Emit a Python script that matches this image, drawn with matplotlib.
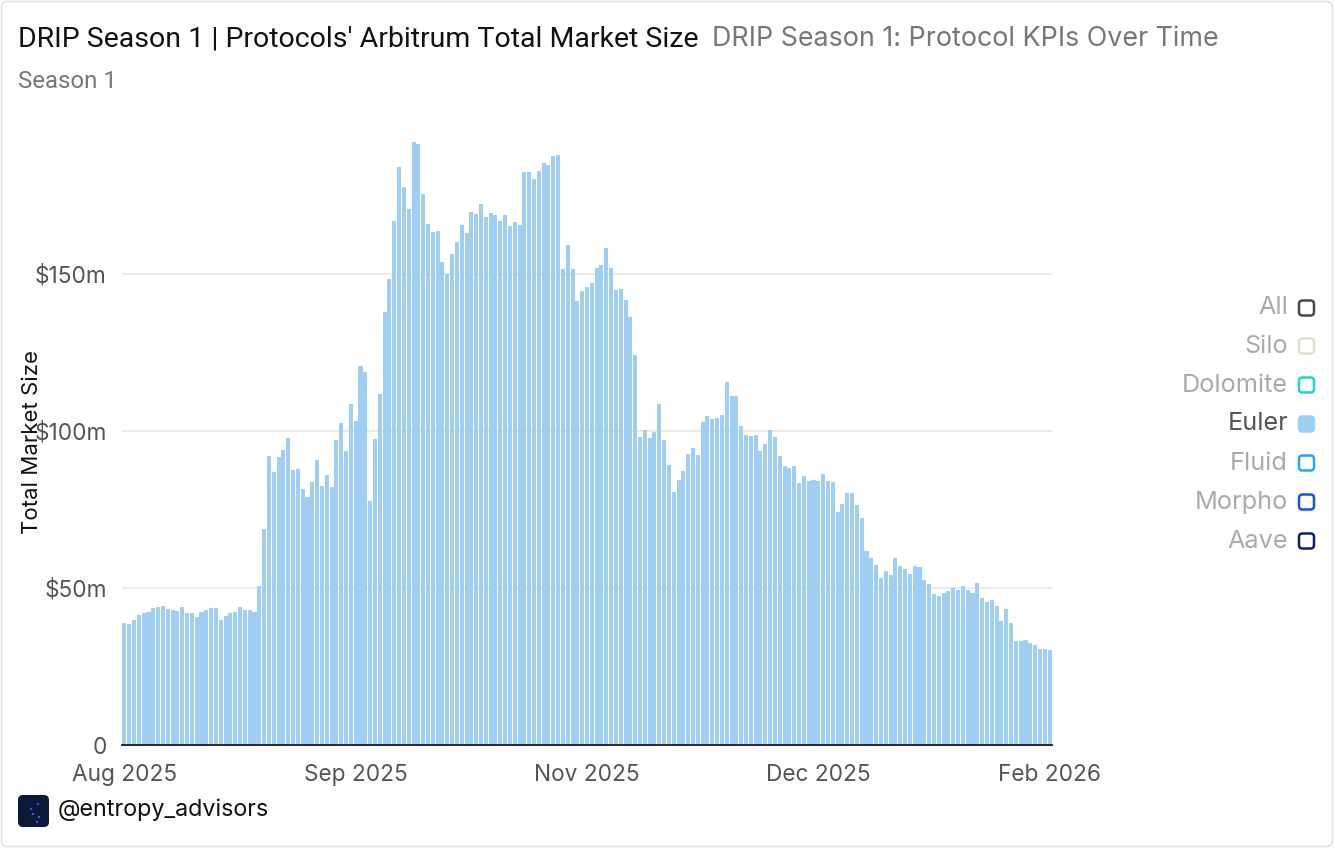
import matplotlib.pyplot as plt
import matplotlib.dates as mdates
from matplotlib.patches import FancyBboxPatch, Circle
import numpy as np
import pandas as pd

# daily Euler total market size, $m, starting 2025-08-01
start_date = "2025-08-01"
market_size_m = [
    38.9, 38.4, 39.9, 41.5, 42.1, 42.2, 43.7, 43.8, 44.3, 43.3,
    42.9, 42.6, 43.9, 42.1, 41.9, 40.8, 42.4, 43.0, 43.7, 43.6,
    39.9, 41.0, 42.0, 42.4, 43.8, 43.0, 43.1, 42.2, 50.7, 68.8,
    91.9, 86.9, 91.7, 94.1, 97.7, 87.5, 87.9, 81.5, 79.0, 83.8,
    90.7, 82.5, 85.9, 82.2, 97.2, 102.5, 93.6, 108.6, 103.1, 120.7,
    118.9, 77.7, 97.6, 111.7, 137.9, 148.5, 167.0, 184.0, 177.7, 170.7,
    192.1, 191.3, 175.6, 166.0, 163.5, 163.7, 153.9, 150.0, 156.4, 160.1,
    165.6, 163.0, 169.6, 169.1, 172.2, 168.3, 169.4, 168.8, 167.0, 168.8,
    165.4, 166.6, 165.6, 182.6, 182.6, 180.1, 182.9, 185.3, 184.6, 187.7,
    187.9, 151.6, 159.1, 151.5, 141.4, 144.5, 146.0, 147.1, 151.9, 152.9,
    158.3, 151.8, 144.8, 145.3, 141.8, 136.4, 124.1, 98.0, 100.3, 97.9,
    99.8, 108.7, 97.0, 89.2, 80.5, 84.3, 87.2, 92.7, 94.5, 92.3,
    103.0, 104.7, 103.8, 104.2, 105.0, 115.7, 111.1, 111.0, 101.7, 98.7,
    98.4, 98.6, 93.7, 96.0, 100.4, 98.1, 92.0, 88.9, 88.3, 88.7,
    83.4, 85.7, 84.1, 84.3, 84.1, 86.2, 84.1, 83.7, 74.2, 76.9,
    80.1, 80.3, 76.4, 72.3, 61.7, 59.4, 57.4, 53.1, 55.4, 54.0,
    59.6, 57.1, 56.1, 54.5, 56.9, 56.6, 52.4, 51.3, 48.1, 47.6,
    48.3, 49.0, 50.0, 49.4, 50.5, 49.4, 48.3, 51.7, 46.9, 45.5,
    46.1, 44.3, 39.5, 43.4, 38.7, 33.0, 33.1, 33.3, 32.4, 31.7,
    30.7, 30.7, 30.1,
]

ytick_vals = [0, 50, 100, 150]
ytick_labels = ["0", "$50m", "$100m", "$150m"]

legend_labels = ["All", "Silo", "Dolomite", "Euler", "Fluid", "Morpho", "Aave"]
legend_colors = ["#4a4a4a", "#e2dfcf", "#1fd6c1", "#a0cdf2", "#1ea8f5", "#1652ee", "#0c1f6e"]
active = "Euler"

W, H = 1334, 848
fig = plt.figure(figsize=(W / 100, H / 100), dpi=100)
pt = fig.dpi_scale_trans


def px(x, y):
    return x / 100, (H - y) / 100


# card border
fig.patches.append(FancyBboxPatch(px(1.5, 846.5), 13.31, 8.45, boxstyle="round,pad=0,rounding_size=0.06",
                                  transform=pt, fc="white", ec="#e4e4e4", lw=1.2, zorder=-5))

dates = pd.date_range(start_date, periods=len(market_size_m), freq="D")

ax = fig.add_axes([122 / W, (H - 745) / H, (1052 - 122) / W, (745 - 117) / H])
ax.set_facecolor("none")
ax.bar(dates, market_size_m, width=0.84, color="#a0cdf2", zorder=2)
ax.set_ylim(0, 200)
ax.set_xlim(dates[0] - pd.Timedelta(hours=12), dates[-1] + pd.Timedelta(hours=12))

ax.set_yticks(ytick_vals)
ax.set_yticklabels(ytick_labels)
for v in ytick_vals[1:]:
    ax.axhline(v, color="#ebebeb", lw=1.5, zorder=1)

tick_dates = dates[::48]
ax.set_xticks(tick_dates)
ax.xaxis.set_major_formatter(mdates.DateFormatter("%b %Y"))
ax.tick_params(axis="both", length=0, labelsize=16.3, labelcolor="#555555")
ax.tick_params(axis="y", pad=11)
ax.tick_params(axis="x", pad=14)
for lab in ax.get_xticklabels() + ax.get_yticklabels():
    lab.set_fontfamily("Inter")

for s in ["top", "right", "left"]:
    ax.spines[s].set_visible(False)
ax.spines["bottom"].set_color("#1a1a1a")
ax.spines["bottom"].set_linewidth(1.3)
ax.spines["bottom"].set_zorder(3)

fig.text(*px(32, 442), "Total Market Size", transform=pt, rotation=90, ha="center", va="center",
         fontsize=16, color="#111111", family="Inter")

# titles
fig.text(*px(18, 39), "DRIP Season 1 | Protocols' Arbitrum Total Market Size", transform=pt,
         ha="left", va="center", fontsize=20.5, color="#111111", family="Roboto")
fig.text(*px(712, 39), "DRIP Season 1: Protocol KPIs Over Time", transform=pt,
         ha="left", va="center", fontsize=19.3, color="#777777", family="Inter")
fig.text(*px(18, 82), "Season 1", transform=pt, ha="left", va="center",
         fontsize=17.3, color="#777777", family="Roboto")

# legend on the right
rows_y = [308, 346, 385, 424, 463, 502, 541]
for lab, col, y in zip(legend_labels, legend_colors, rows_y):
    on = lab == active
    fig.text(*px(1288, y), lab, transform=pt, ha="right", va="center", fontsize=18.2,
             color="#555555" if on else "#aaaaaa", family="Inter")
    fig.patches.append(FancyBboxPatch(px(1299, y + 7.5), 0.15, 0.15,
                                      boxstyle="round,pad=0,rounding_size=0.035", transform=pt,
                                      fc=col if on else "white", ec=col, lw=1.8))

# footer logo + handle
fig.patches.append(FancyBboxPatch(px(18, 827), 0.31, 0.32, boxstyle="round,pad=0,rounding_size=0.05",
                                  transform=pt, fc="#0b1836", ec="none"))
for dx, dy in [(31, 809), (38, 804), (33, 814), (39, 817), (37, 822)]:
    fig.patches.append(Circle(px(dx, dy), 0.012, transform=pt, fc="#2f62e0", ec="none"))
fig.text(*px(58, 810), "@entropy_advisors", transform=pt, ha="left", va="center",
         fontsize=16.8, color="#111111", family="Inter")

fig.savefig("out.png", dpi=100)
